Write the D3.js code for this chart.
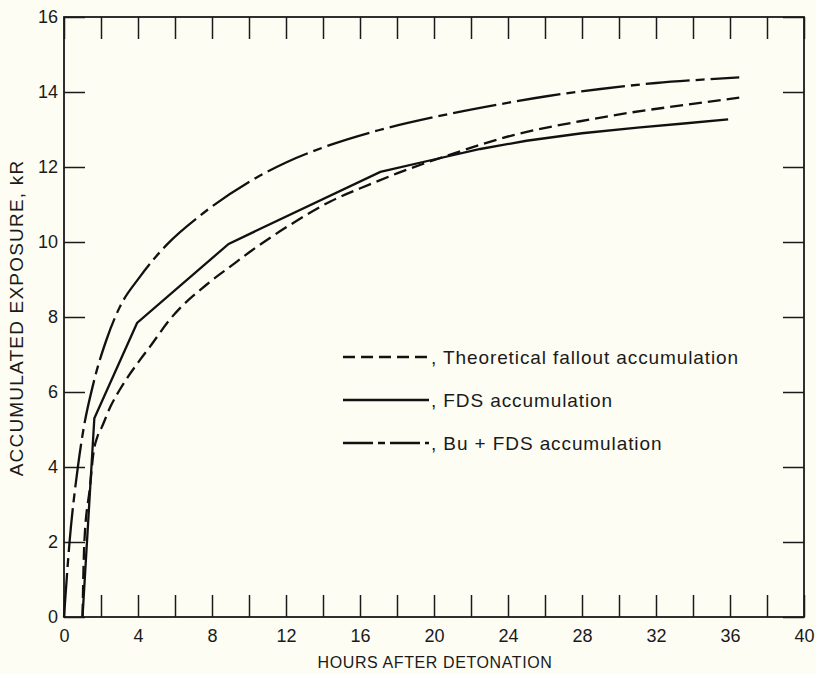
<!DOCTYPE html>
<html lang="en">
<head>
    <meta charset="UTF-8">
    <title>Accumulated exposure</title>
    <script src="https://d3js.org/d3.v7.min.js"></script>
    <style>
        body {
            margin: 0;
            background: #fdfdf4;
        }

        .texto {
            font-family: "Liberation Sans", Arial, sans-serif;
            font-size: 18px;
            fill: #1a1a1a;
        }

        .leyenda {
            font-family: "Liberation Sans", Arial, sans-serif;
            font-size: 19px;
            letter-spacing: 0.9px;
            fill: #1a1a1a;
        }

        .titulo {
            font-family: "Liberation Sans", Arial, sans-serif;
            font-size: 16px;
            letter-spacing: 0.6px;
            fill: #1a1a1a;
        }
    </style>
</head>
<body>
<svg width="816" height="674"></svg>

<script type="application/javascript">

    // hours after detonation / kR
    const theoHours = [1, 1.1, 1.4, 1.6, 1.8, 2.05, 2.5, 3.1, 4.1, 4.65, 5.7, 7.9, 9, 10, 12.2, 14.4, 16.5, 18, 20.7, 24.3, 27.9, 30.6, 33.5, 36.5]
    const theoKR = [0, 2.0, 3.45, 4.4, 4.8, 5.07, 5.6, 6.13, 6.85, 7.21, 7.92, 8.94, 9.35, 9.72, 10.45, 11.08, 11.53, 11.83, 12.3, 12.85, 13.22, 13.45, 13.65, 13.85]

    const fdsHours = [1, 1.64, 3.95, 8.9, 17.1, 20, 22.5, 25, 28, 31, 33.5, 35.9]
    const fdsKR = [0, 5.3, 7.84, 9.95, 11.87, 12.2, 12.48, 12.7, 12.9, 13.05, 13.16, 13.27]

    const buHours = [0, 0.3, 0.75, 1.0, 1.6, 2.3, 3.0, 4.1, 5.6, 7.35, 10, 12, 14, 17, 20, 23.4, 26, 29, 32, 34.5, 36.5]
    const buKR = [0, 2.0, 4.0, 4.85, 6.25, 7.4, 8.25, 9.07, 9.95, 10.7, 11.6, 12.12, 12.52, 12.98, 13.33, 13.66, 13.88, 14.08, 14.24, 14.33, 14.39]

    const xTicks = d3.range(0, 41, 2)
    const yTicks = d3.range(0, 17, 2)

    const legendLabels = [", Theoretical fallout accumulation", ", FDS accumulation", ", Bu + FDS accumulation"]
    const legendDash = ["12,6", null, "30,5,7,5"]

    graficar()

    function graficar() {
        const svg = d3.select("svg")

        const x = d3.scaleLinear().domain([0, 40]).range([64, 804])
        const y = d3.scaleLinear().domain([0, 16]).range([617, 17])

        // marco
        svg.append("rect")
            .attr("x", x(0))
            .attr("y", y(16))
            .attr("width", x(40) - x(0))
            .attr("height", y(0) - y(16))
            .attr("fill", "none")
            .attr("stroke", "#1a1a1a")
            .attr("stroke-width", 1.8)

        const abajo = svg.append("g")
            .attr("transform", "translate(0," + y(0) + ")")
            .call(d3.axisBottom(x).tickValues(xTicks).tickSize(-22).tickPadding(12)
                .tickFormat(d => d % 4 === 0 ? d : ""))
        const arriba = svg.append("g")
            .attr("transform", "translate(0," + y(16) + ")")
            .call(d3.axisTop(x).tickValues(xTicks).tickSize(-22).tickFormat(""))
        const izq = svg.append("g")
            .attr("transform", "translate(" + x(0) + ",0)")
            .call(d3.axisLeft(y).tickValues(yTicks).tickSize(-21).tickPadding(6))
        const der = svg.append("g")
            .attr("transform", "translate(" + x(40) + ",0)")
            .call(d3.axisRight(y).tickValues(yTicks).tickSize(-21).tickFormat(""))

        for (const g of [abajo, arriba, izq, der]) {
            g.select(".domain").remove()
            g.selectAll("line").attr("stroke", "#1a1a1a").attr("stroke-width", 1.5)
            g.selectAll("text").attr("class", "texto").attr("font-family", null).attr("font-size", null)
        }

        // curvas
        const linea = d3.line().x(d => x(d[0])).y(d => y(d[1]))

        svg.append("path")
            .datum(d3.zip(theoHours, theoKR))
            .attr("d", linea.curve(d3.curveMonotoneX))
            .attr("fill", "none")
            .attr("stroke", "#111")
            .attr("stroke-width", 2.3)
            .attr("stroke-dasharray", "13,6")

        svg.append("path")
            .datum(d3.zip(fdsHours, fdsKR))
            .attr("d", linea.curve(d3.curveLinear))
            .attr("fill", "none")
            .attr("stroke", "#111")
            .attr("stroke-width", 2.3)

        svg.append("path")
            .datum(d3.zip(buHours, buKR))
            .attr("d", linea.curve(d3.curveMonotoneX))
            .attr("fill", "none")
            .attr("stroke", "#111")
            .attr("stroke-width", 2.3)
            .attr("stroke-dasharray", "44,6,9,6")

        // leyenda
        const filas = svg.selectAll(".fila")
            .data(legendLabels)
            .enter()
            .append("g")
            .attr("transform", (d, i) => "translate(0," + (357 + i * 43) + ")")

        filas.append("line")
            .attr("x1", 343)
            .attr("x2", 429)
            .attr("stroke", "#111")
            .attr("stroke-width", 2.3)
            .attr("stroke-dasharray", (d, i) => legendDash[i])

        filas.append("text")
            .attr("class", "leyenda")
            .attr("x", 431)
            .attr("dy", "0.35em")
            .text(d => d)

        svg.append("text")
            .attr("class", "titulo")
            .attr("text-anchor", "middle")
            .attr("x", 435)
            .attr("y", 668)
            .text("HOURS AFTER DETONATION")

        svg.append("text")
            .attr("class", "titulo")
            .attr("text-anchor", "middle")
            .attr("transform", "translate(23,318) rotate(-90)")
            .style("font-size", "19px")
            .style("letter-spacing", "1.2px")
            .text("ACCUMULATED EXPOSURE, kR")
    }

</script>
</body>
</html>
